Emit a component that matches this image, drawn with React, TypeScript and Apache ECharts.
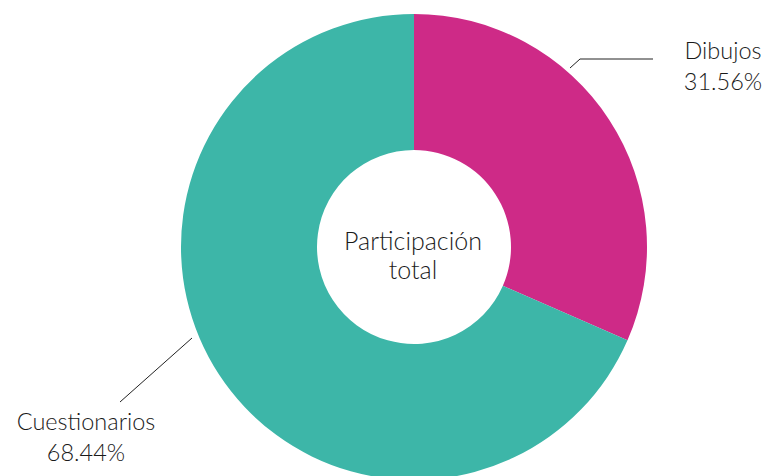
import React, { useEffect, useRef } from "react";
import * as echarts from "echarts";

const categories = ["Dibujos", "Cuestionarios"];
const values = [31.56, 68.44];
const colors = ["#CE2A87", "#3DB6A8"];
const centerTitle = "Participación\ntotal";

export default function App() {
  const ref = useRef<HTMLDivElement>(null);
  useEffect(() => {
    document.body.style.margin = "0";
    const chart = echarts.init(ref.current!, undefined, { renderer: "svg" });
    const font = "Lato";
    chart.setOption({
      animation: false,
      backgroundColor: "#ffffff",
      graphic: [
        {
          type: "text",
          x: 413,
          y: 254,
          style: {
            text: centerTitle,
            fontFamily: font,
            fontWeight: 300,
            fontSize: 25,
            lineHeight: 29,
            fill: "#1a1a1a",
            textAlign: "center",
            textVerticalAlign: "middle",
          },
        },
      ],
      series: [
        {
          type: "pie",
          center: [414, 247],
          radius: [97, 233],
          startAngle: 90,
          clockwise: true,
          data: categories.map((c, i) => ({
            name: c,
            value: values[i],
            itemStyle: { color: colors[i] },
          })),
          label: {
            show: true,
            formatter: (p: any) => `${p.name}\n${p.value.toFixed(2)}%`,
            fontFamily: font,
            fontWeight: 300,
            fontSize: 23.5,
            lineHeight: 31,
            color: "#1a1a1a",
            align: "center",
          },
          labelLine: {
            show: true,
            lineStyle: { color: "#222222", width: 1 },
          },
          labelLayout: (params: any) => {
            if (params.dataIndex === 0) {
              return {
                x: 723,
                y: 65,
                align: "center",
                verticalAlign: "middle",
                labelLinePoints: [
                  [570, 68],
                  [580, 59],
                  [653, 59],
                ],
              };
            }
            return {
              x: 86,
              y: 436,
              align: "center",
              verticalAlign: "middle",
              labelLinePoints: [
                [192, 338],
                [156, 370],
                [120, 402],
              ],
            };
          },
          emphasis: { disabled: true },
        },
      ],
    });
    return () => chart.dispose();
  }, []);
  return <div ref={ref} style={{ width: 770, height: 476 }} />;
}
